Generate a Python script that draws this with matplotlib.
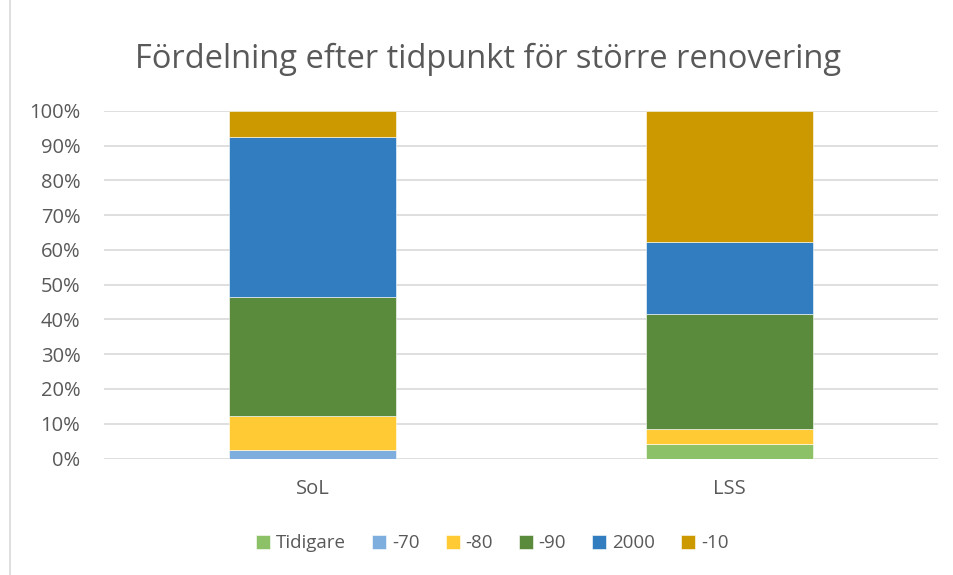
import numpy as np
import matplotlib
matplotlib.use('Agg')
import matplotlib.pyplot as plt
from matplotlib.lines import Line2D

# data (percent of each group)
groups = ['SoL', 'LSS']
periods = ['Tidigare', '-70', '-80', '-90', '2000', '-10']
sol = [0.0, 2.4, 9.7, 34.3, 46.1, 7.5]
lss = [4.1, 0.0, 4.3, 33.2, 20.8, 37.6]
colors = ['#8CC168', '#7DAEDD', '#FFCA33', '#5A8A3C', '#317DC0', '#CC9900']

plt.rcParams['font.family'] = ['Open Sans', 'DejaVu Sans']
txt = '#595959'

fig = plt.figure(figsize=(9.54, 5.75), dpi=100)
ax = fig.add_axes([0.109, 0.2026, 0.874, 0.6044])

vals = np.array([sol, lss]).T
x = np.arange(len(groups))
bottom = np.zeros(len(groups))
for i in range(len(periods)):
    ax.bar(x, vals[i], 0.4, bottom=bottom, color=colors[i], label=periods[i],
           edgecolor='#ffffff', linewidth=0.4, zorder=3)
    bottom += vals[i]

ax.set_xlim(-0.5, 1.5)
ax.set_ylim(0, 100)
ax.set_yticks(np.arange(0, 101, 10))
ax.set_yticklabels([str(v) + '%' for v in range(0, 101, 10)])
ax.set_xticks(x)
ax.set_xticklabels(groups)
ax.grid(axis='y', color='#d9d9d9', linewidth=1.2, zorder=0)
for s in ax.spines.values():
    s.set_visible(False)
ax.tick_params(length=0, colors=txt, labelsize=14.5)
ax.tick_params(axis='y', pad=17)
ax.tick_params(axis='x', pad=15)

fig.text(0.512, 0.897, 'Fördelning efter tidpunkt för större renovering',
         ha='center', va='center', fontsize=23.5, color=txt)

fig.legend(loc='center', bbox_to_anchor=(0.516, 0.055), ncol=6, frameon=False,
           fontsize=13.5, handlelength=0.75, handleheight=0.75, handletextpad=0.3,
           columnspacing=1.4, labelcolor=txt)

# chart area border on the left
fig.add_artist(Line2D([0.0105, 0.0105], [0, 1], color='#d9d9d9', linewidth=1.2,
                      transform=fig.transFigure))

fig.savefig('out.png', dpi=100)
